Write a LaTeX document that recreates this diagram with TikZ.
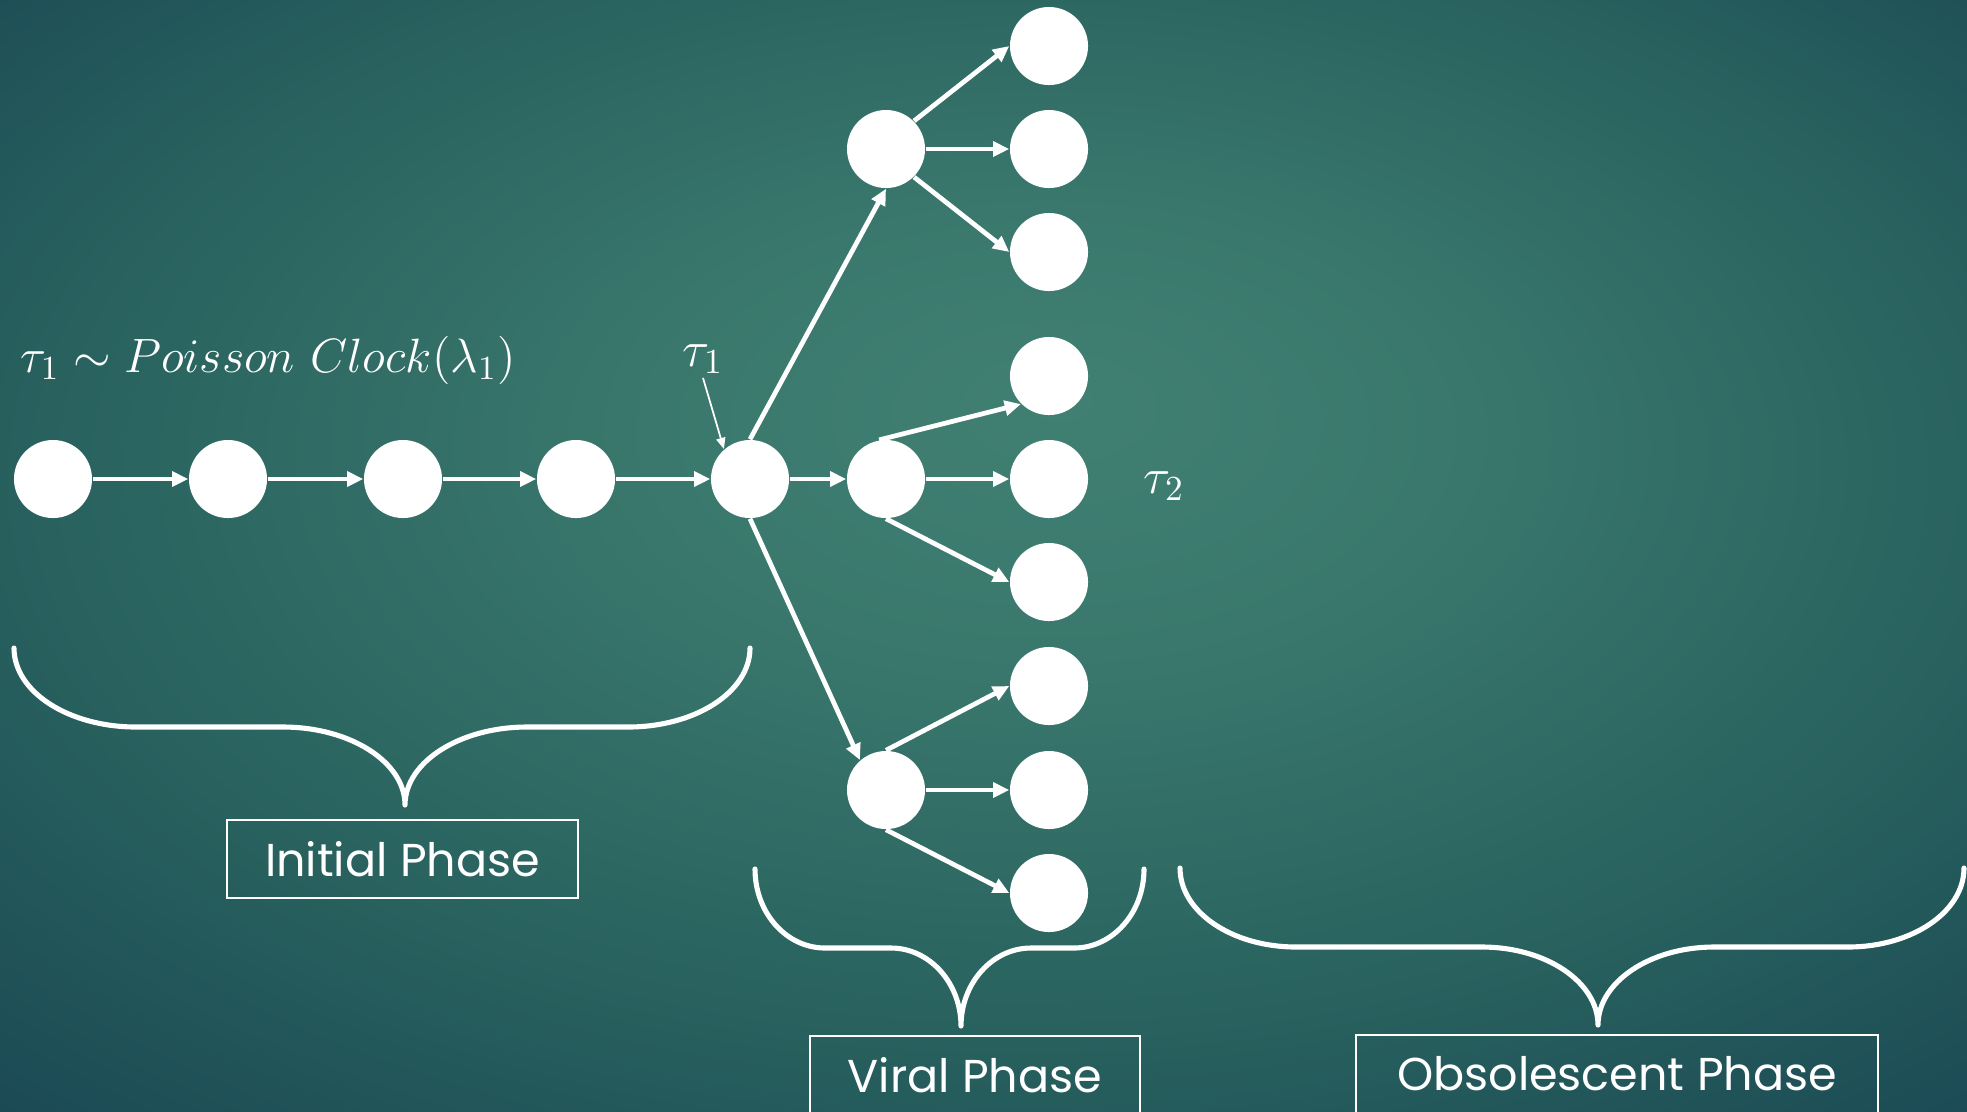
\RequirePackage{fix-cm}
\documentclass[tikz,border=0pt]{standalone}
\usepackage[no-math]{fontspec}
\usepackage{amsmath}
\usepackage{tikz}
\usetikzlibrary{arrows.meta, positioning, calc}
\newfontfamily\phasefont{Poppins}
\definecolor{cInner}{RGB}{64,128,114}
\definecolor{cLight}{RGB}{58,120,109}
\definecolor{cMid}{RGB}{40,97,94}
\definecolor{cOuter}{RGB}{26,72,84}
\definecolor{cDeep}{RGB}{19,56,73}
\pgfdeclareradialshading{slidebg}{\pgfpoint{2bp}{7bp}}{color(0bp)=(cInner); color(10bp)=(cLight); color(25bp)=(cMid); color(38bp)=(cOuter); color(50bp)=(cDeep)}
\tikzset{
	dot/.style={circle, fill=white, minimum size=0.78cm, inner sep=0pt},
	flow/.style={draw=white, line width=1.35pt, -{Triangle[length=4.6pt, width=4.2pt]}},
	tick/.style={draw=white, line width=0.5pt, -{Triangle[length=3.2pt, width=2.6pt]}},
	mathlbl/.style={text=white, inner sep=1pt, font=\fontsize{14.4}{17}\selectfont},
	phasebox/.style={draw=white, line width=0.7pt, minimum height=0.78cm, text centered, text=white, font=\phasefont\fontsize{13.1}{16}\selectfont},
	bracestroke/.style={draw=white, line width=1.45pt, line cap=round, line join=round},
}
% left end, tip, right end, top, corner width
\newcommand{\phasebrace}[5]{%
	\draw[bracestroke] (#1,#4) .. controls (#1,#4+44) and ({#1+0.45*#5},#4+79) .. ({#1+#5},#4+79)
		-- ({#2-#5},#4+79) .. controls ({#2-0.45*#5},#4+79) and (#2,#4+114) .. (#2,#4+157)
		.. controls (#2,#4+114) and ({#2+0.45*#5},#4+79) .. ({#2+#5},#4+79)
		-- ({#3-#5},#4+79) .. controls ({#3-0.45*#5},#4+79) and (#3,#4+44) .. (#3,#4);
}
\begin{document}
\begin{tikzpicture}[x=0.01cm, y=-0.01cm]
	\useasboundingbox (0,0) rectangle (1967,1111);
	\shade[shading=slidebg] (0,0) rectangle (1967,1111);
	\clip (0,0) rectangle (1967,1111);

	% initial chain
	\foreach \x [count=\i] in {53,228,403,576,750} {
		\node[dot] (c\i) at (\x,479) {};
	}
	\foreach \i in {1,...,4} {
		\pgfmathtruncatemacro{\j}{\i+1}
		\draw[flow] (c\i.east) -- (c\j.west);
	}

	% viral tree
	\foreach \y [count=\k] in {149,479,790} {
		\node[dot] (v\k) at (886,\y) {};
	}
	\foreach \y/\n in {46/11, 149/12, 252/13, 376/21, 479/22, 582/23, 686/31, 790/32, 893/33} {
		\node[dot] (l\n) at (1049,\y) {};
	}
	\draw[flow] (c5.north) -- (v1.south);
	\draw[flow] (c5.east) -- (v2.west);
	\draw[flow] (c5.south) -- (v3.131);
	\draw[flow] (v1.45) -- (l11.west);
	\draw[flow] (v1.east) -- (l12.west);
	\draw[flow] (v1.-45) -- (l13.west);
	\draw[flow] (v2.100) -- (l21.225);
	\draw[flow] (v2.east) -- (l22.west);
	\draw[flow] (v2.south) -- (l23.west);
	\draw[flow] (v3.north) -- (l31.west);
	\draw[flow] (v3.east) -- (l32.west);
	\draw[flow] (v3.south) -- (l33.west);

	% clock labels
	\node[mathlbl, font=\fontsize{13.7}{16}\selectfont] (clock) at (268,360) {$\tau_1 \sim Poisson\ Clock(\lambda_1)$};
	\node[mathlbl] (t1) at (703,359) {$\tau_1$};
	\node[mathlbl] (t2) at (1164,486) {$\tau_2$};
	\draw[tick] (t1.south) -- (c5.131);

	% phases
	\phasebrace{14}{405}{750}{648}{122}
	\phasebrace{755}{961}{1144}{869}{70}
	\phasebrace{1180}{1598}{1964}{868}{116}
	\node[phasebox, minimum width=3.51cm] (initbox) at (402.5,859) {Initial Phase};
	\node[phasebox, minimum width=3.30cm] (viralbox) at (975,1075) {Viral Phase};
	\node[phasebox, minimum width=5.22cm] (obsbox) at (1617,1074) {Obsolescent Phase};
\end{tikzpicture}
\end{document}
